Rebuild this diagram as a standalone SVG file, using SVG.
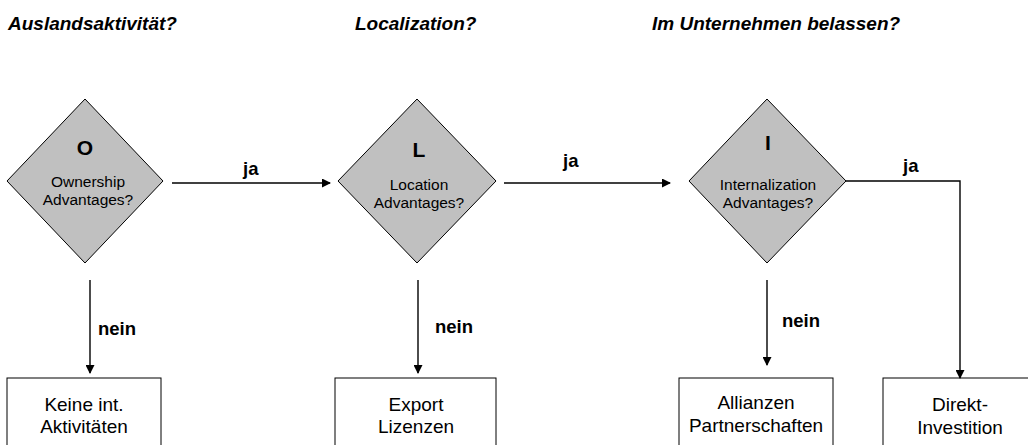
<svg xmlns="http://www.w3.org/2000/svg" width="1028" height="445" viewBox="0 0 1028 445">
<defs>
<marker id="ah" markerWidth="9" markerHeight="9" refX="8" refY="4.5" orient="auto" markerUnits="userSpaceOnUse">
<path d="M0,0 L9,4.5 L0,9 Z" fill="#000"/>
</marker>
<style>
.dia{fill:#c0c0c0;stroke:#000;stroke-width:1}
.box{fill:#fff;stroke:#000;stroke-width:1}
.t{font-family:"Liberation Sans",Arial,sans-serif;font-size:15.5px;fill:#000;text-anchor:middle}
.bt{font-family:"Liberation Sans",Arial,sans-serif;font-size:19px;fill:#000;text-anchor:middle}
.big{font-family:"Liberation Sans",Arial,sans-serif;font-size:21px;font-weight:bold;fill:#000;text-anchor:middle}
.lbl{font-family:"Liberation Sans",Arial,sans-serif;font-size:18.5px;font-weight:bold;fill:#000}
.hdr{font-family:"Liberation Sans",Arial,sans-serif;font-size:19px;font-weight:bold;font-style:italic;fill:#000}
.c{fill:none;stroke:#000;stroke-width:1.4}
</style>
</defs>
<rect width="1028" height="445" fill="#fff"/>
<g id="headers">
<text class="hdr" x="8" y="30">Auslandsaktivität?</text>
<text class="hdr" x="355" y="30">Localization?</text>
<text class="hdr" x="652" y="30">Im Unternehmen belassen?</text>
</g>
<g id="node-O">
<polygon class="dia" points="85,99 163,181 85,263 7,181"/>
<text class="big" x="85" y="155">O</text>
<text class="t" x="88" y="187">Ownership</text>
<text class="t" x="88" y="205">Advantages?</text>
</g>
<g id="node-L">
<polygon class="dia" points="417,99 496,181 417,263 338,181"/>
<text class="big" x="419" y="157">L</text>
<text class="t" x="419" y="190">Location</text>
<text class="t" x="419" y="208">Advantages?</text>
</g>
<g id="node-I">
<polygon class="dia" points="767,99 846,181 767,263 689,181"/>
<text class="big" x="768" y="150">I</text>
<text class="t" x="768" y="190">Internalization</text>
<text class="t" x="768" y="208">Advantages?</text>
</g>
<g id="box-keine">
<rect class="box" x="7" y="378" width="154" height="80"/>
<text class="bt" x="84" y="411">Keine int.</text>
<text class="bt" x="84" y="433">Aktivitäten</text>
</g>
<g id="box-export">
<rect class="box" x="335" y="378" width="161" height="80"/>
<text class="bt" x="416" y="411">Export</text>
<text class="bt" x="416" y="433">Lizenzen</text>
</g>
<g id="box-allianzen">
<rect class="box" x="679" y="378" width="154" height="80"/>
<text class="bt" x="756" y="409">Allianzen</text>
<text class="bt" x="756" y="432">Partnerschaften</text>
</g>
<g id="box-direkt">
<rect class="box" x="883" y="378" width="150" height="80"/>
<text class="bt" x="960" y="411">Direkt-</text>
<text class="bt" x="960" y="434">Investition</text>
</g>
<g id="connectors">
<path class="c" d="M172,183 H330" marker-end="url(#ah)"/>
<path class="c" d="M504,183 H670" marker-end="url(#ah)"/>
<path class="c" d="M846,181 H960 V378" marker-end="url(#ah)"/>
<path class="c" d="M90,280 V373" marker-end="url(#ah)"/>
<path class="c" d="M418,280 V373" marker-end="url(#ah)"/>
<path class="c" d="M767,280 V365" marker-end="url(#ah)"/>
<text class="lbl" x="243" y="175">ja</text>
<text class="lbl" x="563" y="167">ja</text>
<text class="lbl" x="903" y="172">ja</text>
<text class="lbl" x="98" y="335">nein</text>
<text class="lbl" x="435" y="333">nein</text>
<text class="lbl" x="782" y="327">nein</text>
</g>
</svg>
